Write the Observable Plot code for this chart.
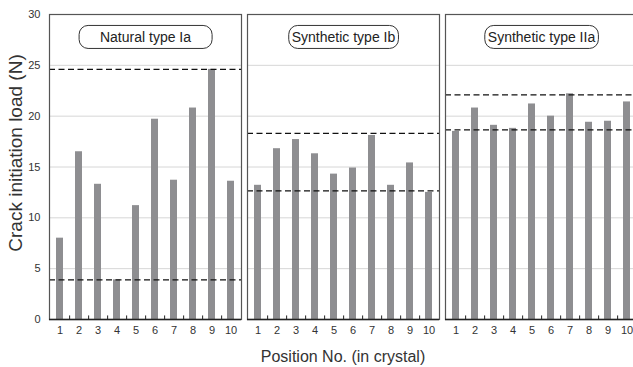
<!DOCTYPE html>
<html>
<head>
<meta charset="utf-8">
<script src="https://cdn.jsdelivr.net/npm/d3@7"></script>
<script src="https://cdn.jsdelivr.net/npm/@observablehq/plot@0.6"></script>
<style>
  html, body { margin: 0; padding: 0; background: white; overflow: hidden; width: 633px; height: 367px; }
  #chart { width: 633px; height: 367px; overflow: hidden; }
  #chart svg { max-width: none !important; }
</style>
</head>
<body>
<div id="chart"></div>
<script>
// ---- data ----
const panels = ["Natural type Ia", "Synthetic type Ib", "Synthetic type IIa"];
const positions = [1, 2, 3, 4, 5, 6, 7, 8, 9, 10];
const naturalIa    = [8.0, 16.5, 13.3, 3.9, 11.2, 19.7, 13.7, 20.8, 24.6, 13.6];
const syntheticIb  = [13.2, 16.8, 17.7, 16.3, 14.3, 14.9, 18.1, 13.2, 15.4, 12.5];
const syntheticIIa = [18.5, 20.8, 19.1, 18.8, 21.2, 20.0, 22.2, 19.4, 19.5, 21.4];
const naturalIaRange    = [3.9, 24.6];
const syntheticIbRange  = [12.65, 18.3];
const syntheticIIaRange = [18.65, 22.1];
const yTicks = [0, 5, 10, 15, 20, 25, 30];
const yTitle = "Crack initiation load (N)";
const xTitle = "Position No. (in crystal)";

// ---- tables built from the arrays ----
const seriesValues = [naturalIa, syntheticIb, syntheticIIa];
const seriesRanges = [naturalIaRange, syntheticIbRange, syntheticIIaRange];
const bars = panels.flatMap((p, i) => positions.map((pos, j) => ({panel: p, pos, value: seriesValues[i][j]})));
const limits = panels.flatMap((p, i) => seriesRanges[i].map(v => ({panel: p, value: v})));
const gridValues = yTicks.filter(v => v > yTicks[0] && v < yTicks[yTicks.length - 1]);

const W = 640, H = 367, mL = 48, mR = 2, mT = 14, mB = 48;
const fxPad = 0.03;
const facetW = (W - mL - mR) / (panels.length - fxPad) * (1 - fxPad);
const step = facetW / positions.length;

const chart = Plot.plot({
  width: W, height: H,
  marginLeft: mL, marginRight: mR, marginTop: mT, marginBottom: mB,
  style: {fontFamily: "'Liberation Sans', Arial, sans-serif", fontSize: "11px", color: "#333", background: "white", maxWidth: "none"},
  fx: {domain: panels, paddingInner: fxPad, paddingOuter: 0, axis: null, label: null},
  x: {domain: positions, paddingInner: 0.61, paddingOuter: 0.305, tickSize: 0, tickPadding: 7, label: null},
  y: {domain: [yTicks[0], yTicks[yTicks.length - 1]], ticks: yTicks.length - 1, tickSize: 0, tickPadding: 9, label: null},
  marks: [
    Plot.ruleY(gridValues, {stroke: "#d6d6d6", strokeWidth: 1}),
    Plot.barY(bars, {fx: "panel", x: "pos", y: "value", fill: "#8e8e91"}),
    Plot.ruleY(limits, {fx: "panel", y: "value", stroke: "#111", strokeWidth: 1.3, strokeDasharray: "6,3.5"}),
    Plot.frame({stroke: "#555", strokeWidth: 1.2}),
    Plot.ruleY([0], {stroke: "#222", strokeWidth: 1.6}),
    Plot.ruleX(positions.slice(0, -1), {x: d => d, dx: step / 2, y1: 0, y2: 0.35, stroke: "#222", strokeWidth: 1}),
    Plot.text(panels, {fx: d => d, text: d => d, frameAnchor: "top", dy: 18, fontSize: 14, fill: "#222"})
  ]
});
chart.style.maxWidth = "none";

document.getElementById("chart").appendChild(chart);

// rounded boxes around panel titles
const svg = d3.select(chart);
svg.selectAll("text").filter(function() { return panels.includes(this.textContent); }).each(function() {
  const bb = this.getBBox();
  const padX = this.textContent === panels[0] ? (133 - bb.width) / 2 : 3;
  d3.select(this.parentNode).insert("rect", () => this)
    .attr("x", bb.x - padX).attr("y", bb.y - 4)
    .attr("width", bb.width + 2 * padX).attr("height", bb.height + 7)
    .attr("rx", 9).attr("ry", 9)
    .attr("fill", "white").attr("stroke", "#333").attr("stroke-width", 1)
    .attr("transform", this.getAttribute("transform"));
});

// axis titles
svg.append("text")
  .attr("transform", "translate(22,153) rotate(-90)")
  .attr("text-anchor", "middle")
  .attr("font-size", 19).attr("fill", "#333")
  .text(yTitle);
svg.append("text")
  .attr("x", 343).attr("y", 362)
  .attr("text-anchor", "middle")
  .attr("font-size", 16).attr("fill", "#333")
  .text(xTitle);
</script>
</body>
</html>
